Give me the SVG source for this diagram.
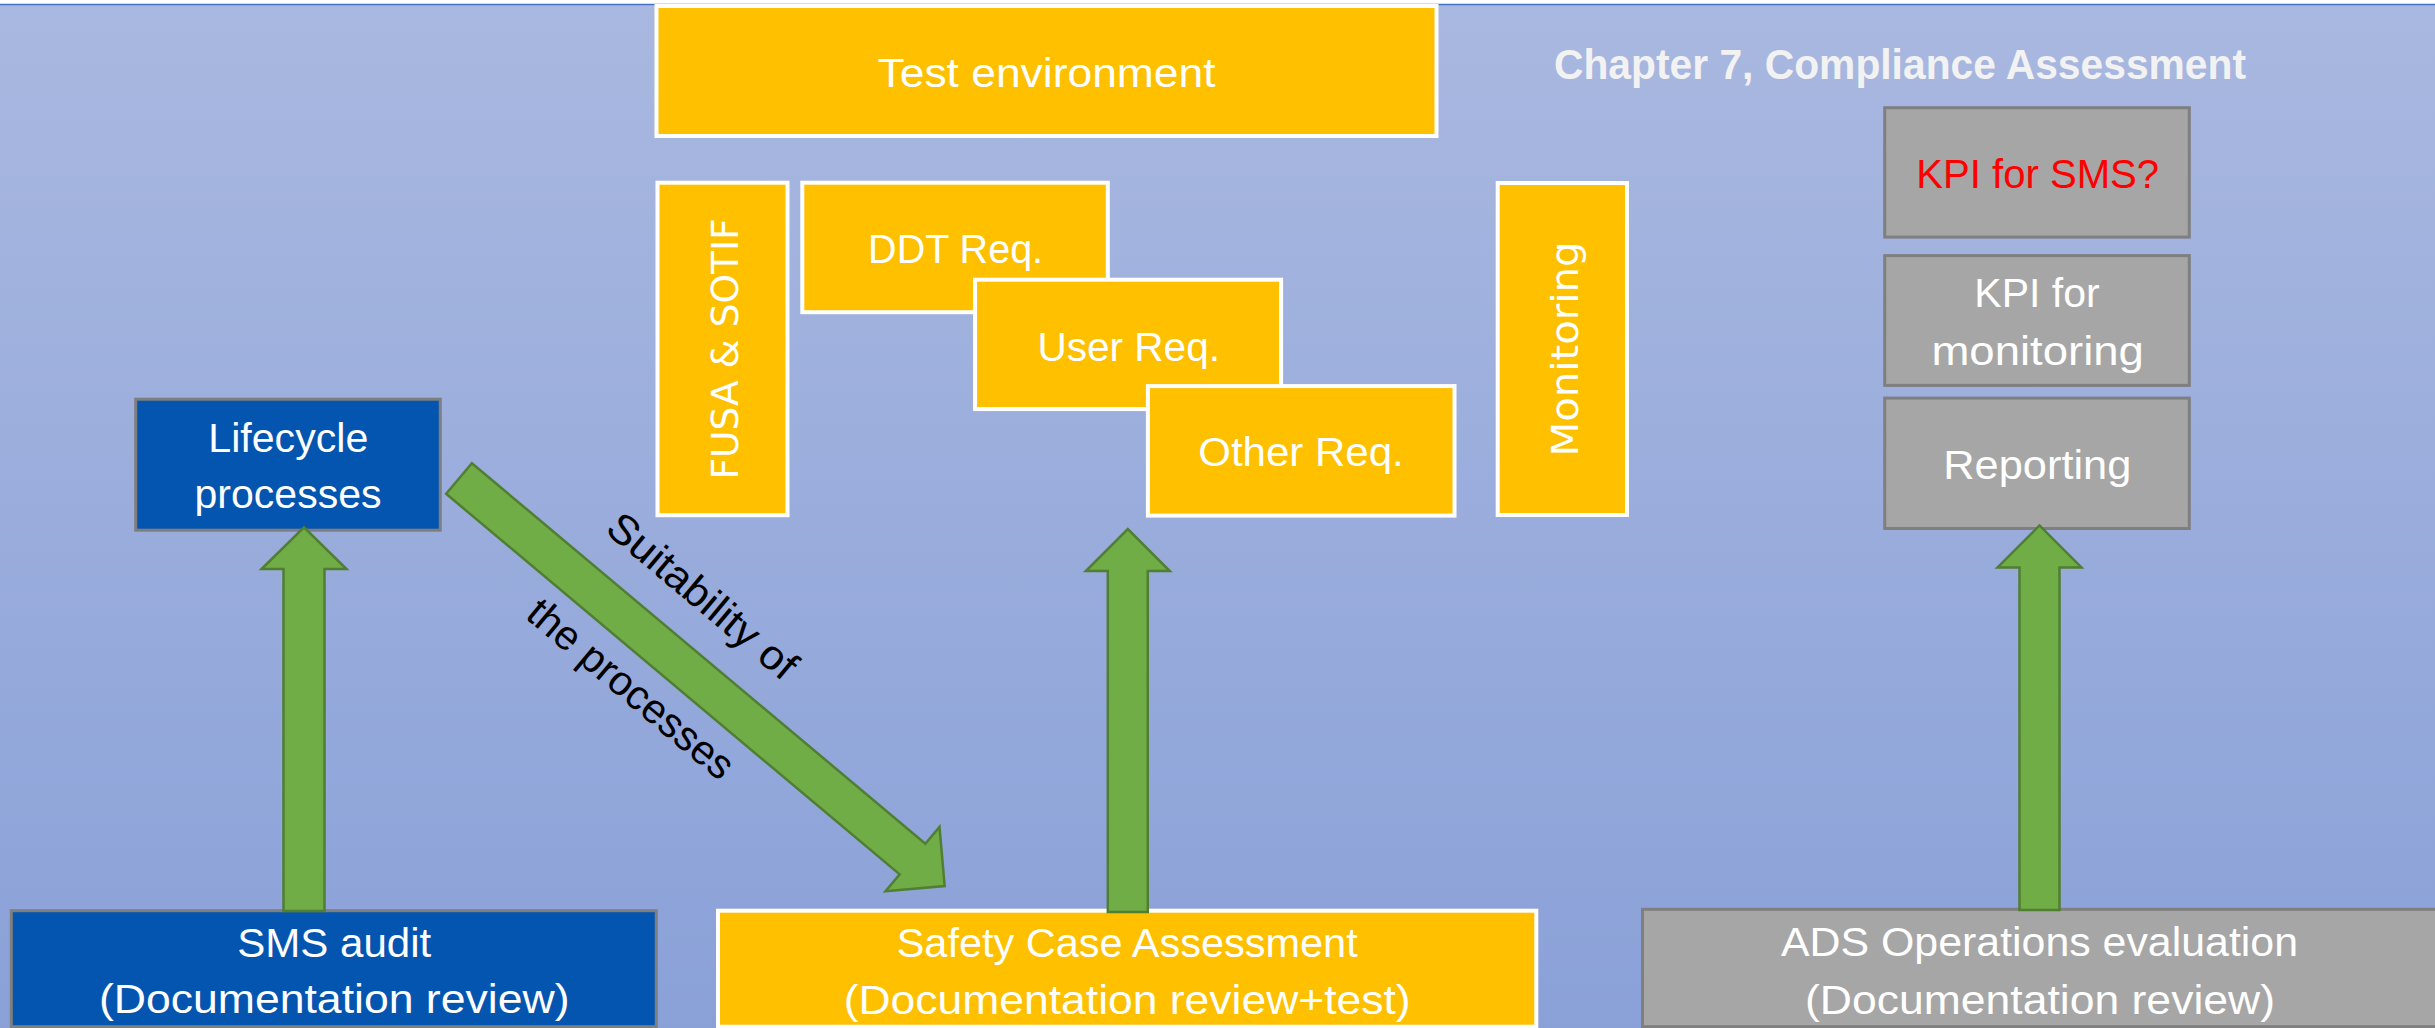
<svg xmlns="http://www.w3.org/2000/svg" width="2435" height="1028" viewBox="0 0 2435 1028">
<defs>
<linearGradient id="bg" x1="0" y1="0" x2="0" y2="1">
<stop offset="0" stop-color="#A9B8E0"/>
<stop offset="1" stop-color="#8AA1D8"/>
</linearGradient>
<style>
.yel{fill:#FFC000;stroke:#FFFFFF;stroke-width:4}
.gry{fill:#A6A6A6;stroke:#7F7F7F;stroke-width:3}
.blu{fill:#0455B0;stroke:#7F7F7F;stroke-width:3}
.arr{fill:#70AD47;stroke:#507E32;stroke-width:2.5;stroke-linejoin:miter}
.t{font-family:"Liberation Sans",Arial,sans-serif;font-size:41.5px;fill:#FFFFFF;text-anchor:middle}
.v{font-family:"DejaVu Sans",Verdana,sans-serif;font-size:38px;fill:#FFFFFF;text-anchor:middle}
.red{fill:#FF0000}
.blk{fill:#000000}
.title{font-family:"Liberation Sans",Arial,sans-serif;font-size:43px;font-weight:bold;fill:#F2F2F2;text-anchor:middle}
</style>
</defs>
<rect x="0" y="0" width="2435" height="1028" fill="#FFFFFF"/>
<rect x="0" y="4.5" width="2435" height="1024" fill="url(#bg)"/>
<line x1="0" y1="4.5" x2="2435" y2="4.5" stroke="#4472C4" stroke-width="1.6"/>

<g id="title"><text class="title" x="1900" y="79" textLength="692" lengthAdjust="spacingAndGlyphs">Chapter 7, Compliance Assessment</text></g>

<g id="test-environment"><rect class="yel" x="656.5" y="6" width="780" height="130"/><text class="t" x="1046.5" y="86.5" textLength="338" lengthAdjust="spacingAndGlyphs">Test environment</text></g>
<g id="fusa-sotif"><rect class="yel" x="657.5" y="182.7" width="130" height="332.5"/><text class="v" transform="translate(738,349) rotate(-90)" textLength="261" lengthAdjust="spacingAndGlyphs">FUSA &amp; SOTIF</text></g>
<g id="ddt-req"><rect class="yel" x="802.3" y="182.7" width="305.5" height="129.5"/><text class="t" x="955.6" y="262.5" textLength="175" lengthAdjust="spacingAndGlyphs">DDT Req.</text></g>
<g id="user-req"><rect class="yel" x="975.1" y="279.7" width="306" height="129.4"/><text class="t" x="1128.7" y="360.5" textLength="182.6" lengthAdjust="spacingAndGlyphs">User Req.</text></g>
<g id="other-req"><rect class="yel" x="1147.9" y="386.1" width="306.6" height="129.5"/><text class="t" x="1301" y="466" textLength="205.5" lengthAdjust="spacingAndGlyphs">Other Req.</text></g>
<g id="monitoring"><rect class="yel" x="1497.7" y="183" width="129.3" height="332"/><text class="v" transform="translate(1578,349) rotate(-90)" textLength="215" lengthAdjust="spacingAndGlyphs">Monitoring</text></g>

<g id="kpi-sms"><rect class="gry" x="1884.7" y="107.7" width="304.6" height="129.4"/><text class="t red" x="2037.7" y="188" textLength="243" lengthAdjust="spacingAndGlyphs">KPI for SMS?</text></g>
<g id="kpi-monitoring"><rect class="gry" x="1884.7" y="255.6" width="304.6" height="129.8"/><text class="t" x="2037" y="307" textLength="125.4" lengthAdjust="spacingAndGlyphs">KPI for</text><text class="t" x="2037.7" y="364.8" textLength="212.5" lengthAdjust="spacingAndGlyphs">monitoring</text></g>
<g id="reporting"><rect class="gry" x="1884.7" y="398.1" width="304.6" height="130.4"/><text class="t" x="2037.3" y="479" textLength="188" lengthAdjust="spacingAndGlyphs">Reporting</text></g>

<g id="lifecycle"><rect class="blu" x="135.7" y="399.2" width="304.6" height="131"/><text class="t" x="288.3" y="451.5" textLength="160" lengthAdjust="spacingAndGlyphs">Lifecycle</text><text class="t" x="288" y="508" textLength="187" lengthAdjust="spacingAndGlyphs">processes</text></g>

<g id="sms-audit"><rect class="blu" x="11.3" y="910.7" width="645" height="116"/><text class="t" x="334.2" y="956.7" textLength="194" lengthAdjust="spacingAndGlyphs">SMS audit</text><text class="t" x="334.2" y="1013" textLength="470.6" lengthAdjust="spacingAndGlyphs">(Documentation review)</text></g>
<g id="safety-case"><rect class="yel" x="718" y="910.7" width="818.3" height="116"/><text class="t" x="1127.2" y="957" textLength="461" lengthAdjust="spacingAndGlyphs">Safety Case Assessment</text><text class="t" x="1127.2" y="1013.5" textLength="567" lengthAdjust="spacingAndGlyphs">(Documentation review+test)</text></g>
<g id="ads-operations"><rect class="gry" x="1642.5" y="909.3" width="800" height="117.4"/><text class="t" x="2039.5" y="956" textLength="517" lengthAdjust="spacingAndGlyphs">ADS Operations evaluation</text><text class="t" x="2040" y="1013.5" textLength="470" lengthAdjust="spacingAndGlyphs">(Documentation review)</text></g>

<g id="connectors">
<polygon class="arr" points="283.5,911 283.5,569 261.5,569 304,527.3 346.5,569 324.5,569 324.5,911"/>
<polygon class="arr" points="1107.8,912 1107.8,571 1085.8,571 1127.8,529 1169.8,571 1147.8,571 1147.8,912"/>
<polygon class="arr" points="2019.5,910 2019.5,567.4 1997.5,567.4 2039.5,525.4 2081.5,567.4 2059.5,567.4 2059.5,910"/>
<g transform="translate(459,478.5) rotate(40)">
<polygon class="arr" points="0,-20 592,-20 592,-42 634,0 592,42 592,20 0,20"/>
<text class="t blk" x="262" y="-52.5" textLength="234" lengthAdjust="spacingAndGlyphs">Suitability of</text>
<text class="t blk" x="267" y="64.5" textLength="256" lengthAdjust="spacingAndGlyphs">the processes</text>
</g>
</g>
</svg>
